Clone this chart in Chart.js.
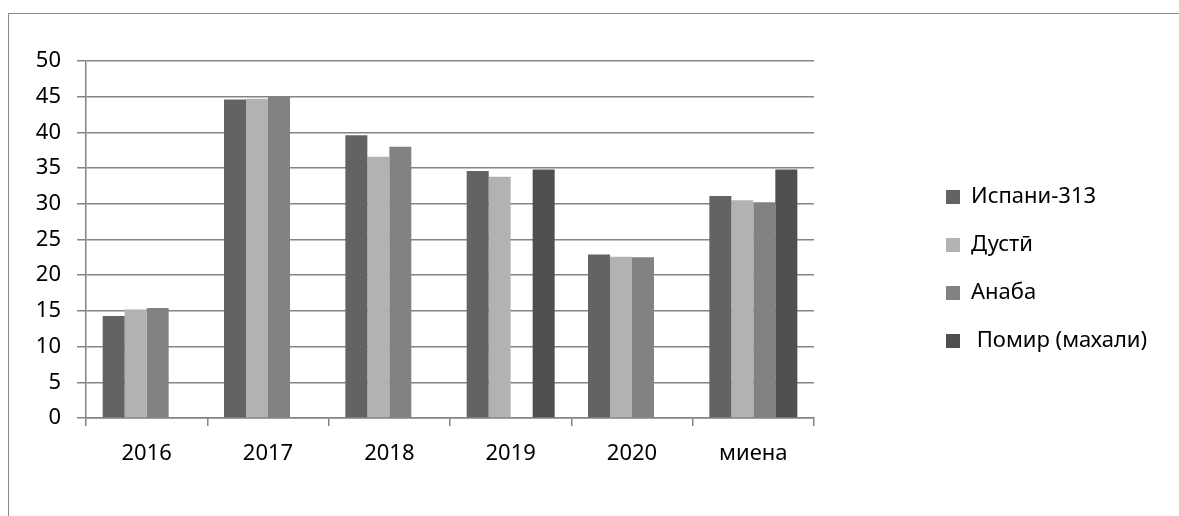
<!DOCTYPE html>
<html><head><meta charset="utf-8">
<script src="https://cdn.jsdelivr.net/npm/chart.js@4.4.1/dist/chart.umd.min.js"></script>
<style>
html,body{margin:0;padding:0;background:#fff;}
#wrap{position:relative;width:1179px;height:516px;overflow:hidden;background:#fff;}
#frame{position:absolute;left:8px;top:13px;width:1300px;height:700px;border-left:1.5px solid #8a8a8a;border-top:1.5px solid #8a8a8a;}
canvas{position:absolute;left:0;top:0;}
</style></head><body>
<div id="wrap"><div id="frame"></div><canvas id="c" width="1179" height="516"></canvas></div>
<script>
// ---- data ----
const categories = ['2016', '2017', '2018', '2019', '2020', 'миена'];
const seriesNames = ['Испани-313', 'Дустӣ', 'Анаба', ' Помир (махали)'];
const ispani313 = [14.3, 44.6, 39.6, 34.6, 22.9, 31.1];
const dusti     = [15.2, 44.7, 36.6, 33.8, 22.6, 30.5];
const anaba     = [15.4, 45.1, 38.0, null, 22.5, 30.2];
const pomir     = [null, null, null, 34.8, null, 34.8];
const yTickLabels = ['0', '5', '10', '15', '20', '25', '30', '35', '40', '45', '50'];
const seriesColors = ['#636363', '#b2b2b2', '#828282', '#4f4f4f'];

// ---- layout targets ----
const PLOT_RIGHT = 814;
const LEGEND_LEFT = 920;
const GRID = '#848484';
const FONT_SIZE = 22;

Chart.defaults.font.family = "'Noto Sans', 'Open Sans', sans-serif";
Chart.defaults.font.size = FONT_SIZE;
Chart.defaults.color = '#000';

const legendShift = {
  id: 'legendShift',
  afterLayout(chart) {
    const lg = chart.legend;
    if (!lg) return;
    lg.left = LEGEND_LEFT;
    lg.right = 1179;
  }
};

const seriesData = [ispani313, dusti, anaba, pomir];
new Chart(document.getElementById('c'), {
  type: 'bar',
  data: {
    labels: categories,
    datasets: seriesNames.map((n, i) => ({
      label: n,
      data: seriesData[i],
      backgroundColor: seriesColors[i],
      borderWidth: 0,
      categoryPercentage: 0.725,
      barPercentage: 1.0
    }))
  },
  options: {
    responsive: false,
    devicePixelRatio: 1,
    animation: false,
    layout: { padding: { left: 0, right: 0, top: 61, bottom: 39 } },
    plugins: {
      tooltip: { enabled: false },
      title: { display: false },
      legend: {
        position: 'right',
        align: 'center',
        labels: {
          boxWidth: 14,
          boxHeight: 14,
          padding: 26,
          color: '#000',
          font: { size: FONT_SIZE }
        }
      }
    },
    scales: {
      x: {
        offset: true,
        grid: {
          display: true,
          offset: true,
          drawOnChartArea: false,
          drawTicks: true,
          tickLength: 8,
          color: GRID,
          lineWidth: 1.5
        },
        border: { display: true, color: GRID, width: 1.5 },
        ticks: { padding: 15, color: '#000', font: { size: FONT_SIZE }, maxRotation: 0 },
        afterFit(scale) { scale.height = 59; }
      },
      y: {
        min: 0,
        max: 50,
        ticks: {
          stepSize: 5,
          padding: 16,
          color: '#000',
          font: { size: FONT_SIZE },
          callback: (v) => yTickLabels[Math.round(v / 5)]
        },
        grid: {
          color: GRID,
          lineWidth: 1.5,
          tickLength: 9,
          drawTicks: true
        },
        border: { display: true, color: GRID, width: 1.5 },
        afterFit(scale) { scale.width = 86; }
      },
      yR: {
        type: 'linear',
        position: 'right',
        display: true,
        grid: { display: false, drawTicks: false },
        border: { display: false },
        ticks: { display: false },
        afterFit(scale) {
          const lw = scale.chart.legend ? scale.chart.legend.width : 0;
          scale.width = Math.max(0, 1179 - PLOT_RIGHT - lw);
        }
      }
    }
  },
  plugins: [legendShift]
});
</script>
</body></html>
